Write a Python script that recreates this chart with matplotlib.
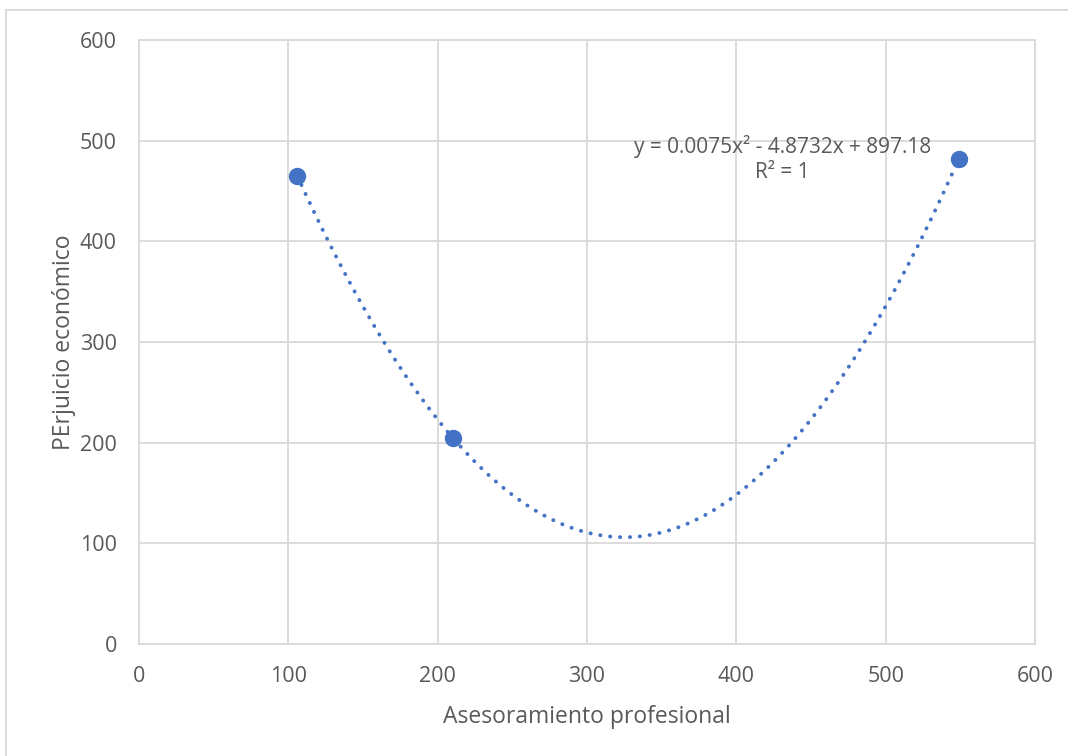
import numpy as np
import matplotlib
matplotlib.use("Agg")
from matplotlib import pyplot as plt
from matplotlib.lines import Line2D

# measured points
asesoramiento = [106, 210, 549]
perjuicio = [465, 205, 482]

x_ticks = [0, 100, 200, 300, 400, 500, 600]
y_ticks = [0, 100, 200, 300, 400, 500, 600]

blue = '#4472C4'
text_grey = '#595959'
grid_grey = '#D9D9D9'

plt.rcParams['font.family'] = ['Open Sans', 'DejaVu Sans']

fig = plt.figure(figsize=(10.68, 7.56), dpi=100)
ax = fig.add_axes([139 / 1068, 1 - 644 / 756, 896 / 1068, 604 / 756])

# polynomial trendline (order 2) through the points
coef = np.polyfit(asesoramiento, perjuicio, 2)
xs = np.linspace(min(asesoramiento), max(asesoramiento), 400)
ax.plot(xs, np.polyval(coef, xs), color=blue, linewidth=2.8,
        linestyle=(0, (0.05, 2.5)), dash_capstyle='round', zorder=3)
ax.plot(asesoramiento, perjuicio, 'o', color=blue, markersize=11.5, zorder=4)

ax.text(431, 494, 'y = 0.0075x² - 4.8732x + 897.18', ha='center', va='center',
        fontsize=15, color=text_grey)
ax.text(431, 468, 'R² = 1', ha='center', va='center',
        fontsize=15, color=text_grey)

ax.set_xlim(0, 600)
ax.set_ylim(0, 600)
ax.set_xticks(x_ticks)
ax.set_yticks(y_ticks)
ax.tick_params(length=0, labelsize=15.5, labelcolor=text_grey)
ax.tick_params(axis='x', pad=16)
ax.tick_params(axis='y', pad=16)
ax.grid(True, color=grid_grey, linewidth=1.3)
ax.set_axisbelow(True)
for s in ax.spines.values():
    s.set_color(grid_grey)
    s.set_linewidth(1.3)

ax.set_xlabel('Asesoramiento profesional', fontsize=16.5, color=text_grey, labelpad=13)
ax.set_ylabel('PErjuicio económico', fontsize=16.5, color=text_grey, labelpad=3)

# outer chart frame
fig.add_artist(Line2D([6 / 1068, 6 / 1068], [0, 1 - 10 / 756], color=grid_grey, linewidth=1.3))
fig.add_artist(Line2D([6 / 1068, 1], [1 - 10 / 756, 1 - 10 / 756], color=grid_grey, linewidth=1.3))

fig.savefig('out.png', dpi=100)
